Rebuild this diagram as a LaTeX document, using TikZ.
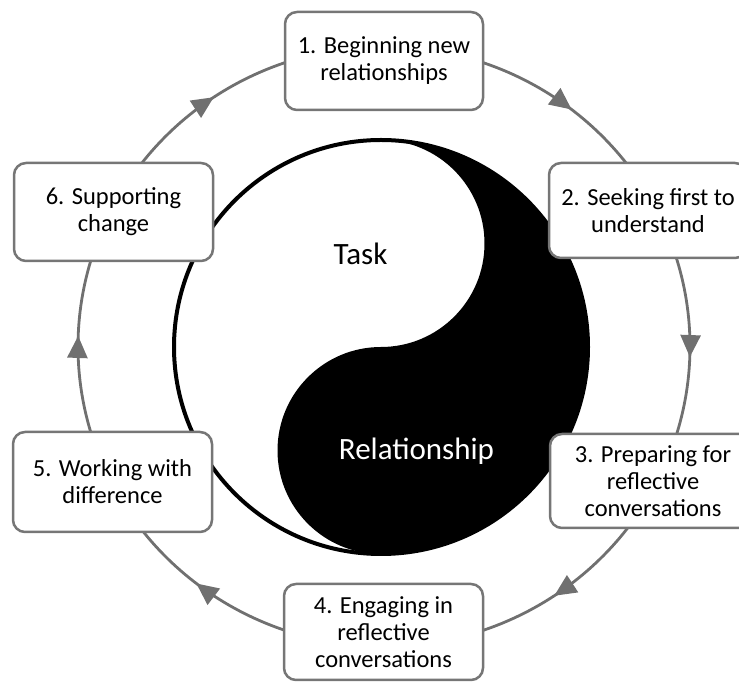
\documentclass[tikz,border=0pt]{standalone}
\usepackage{fontspec}
\setmainfont{Carlito}
\usetikzlibrary{arrows.meta,decorations.markings}
\definecolor{ringgray}{RGB}{112,112,112}
\definecolor{boxgray}{RGB}{118,118,118}
\begin{document}
\begin{tikzpicture}[x=1pt,y=1pt,
  stage/.style={draw=boxgray, line width=2.5pt, rounded corners=12pt, fill=white,
    align=center, font=\fontsize{24.5}{27}\selectfont, inner sep=0pt},
  cycleline/.style={draw=ringgray, line width=2.8pt,
    decoration={markings, mark=at position #1 with
      {\arrow[ringgray]{Triangle[length=22pt,width=20pt]}}},
    postaction=decorate},
  bigword/.style={anchor=base, font=\fontsize{31}{34}\selectfont},
]
\useasboundingbox (0,0) rectangle (739,682);

% yin-yang disc
\coordinate (yy) at (381,335);
\fill[white] (yy) circle[radius=207];
\fill[black] (yy) ++(0,207)
  arc[start angle=90,end angle=-90,radius=207]
  arc[start angle=-90,end angle=-270,radius=103.5]
  arc[start angle=-90,end angle=90,radius=103.5] -- cycle;
\draw[line width=4pt] (yy) circle[radius=207];

\node[bigword] (task) at (360.5,417) {Task};
\node[bigword, text=white] (rel) at (416.5,222) {Relationship};

% the cycle ring, one arc per step
\coordinate (ring) at (384,335.5);
\path (ring) ++(90:306 and 300) coordinate (r1)
      (ring) ++(18:306 and 300) coordinate (r2)
      (ring) ++(-18:306 and 300) coordinate (r3)
      (ring) ++(-90:306 and 300) coordinate (r4)
      (ring) ++(-162:306 and 300) coordinate (r5)
      (ring) ++(162:306 and 300) coordinate (r6);
\draw[cycleline=0.528] (r1) arc[start angle=90,end angle=18,x radius=306,y radius=300];
\draw[cycleline=0.556] (r2) arc[start angle=18,end angle=-18,x radius=306,y radius=300];
\draw[cycleline=0.528] (r3) arc[start angle=-18,end angle=-90,x radius=306,y radius=300];
\draw[cycleline=0.528] (r4) arc[start angle=-90,end angle=-162,x radius=306,y radius=300];
\draw[cycleline=0.556] (r5) arc[start angle=198,end angle=162,x radius=306,y radius=300];
\draw[cycleline=0.528] (r6) arc[start angle=162,end angle=90,x radius=306,y radius=300];

% step boxes
\node[stage, minimum width=198, minimum height=98] (s1) at (384,621)
  {1. Beginning new\\relationships};
\node[stage, minimum width=198, minimum height=95] (s2) at (648,471.5)
  {2. Seeking first to\\understand};
\node[stage, minimum width=206, minimum height=94] (s3) at (653,201)
  {3. Preparing for\\reflective\\conversations};
\node[stage, minimum width=199, minimum height=96] (s4) at (383.5,50)
  {4. Engaging in\\reflective\\conversations};
\node[stage, minimum width=199, minimum height=100] (s5) at (112.5,200)
  {5. Working with\\difference};
\node[stage, minimum width=199, minimum height=98] (s6) at (113.5,470)
  {6. Supporting\\change};
\end{tikzpicture}
\end{document}
